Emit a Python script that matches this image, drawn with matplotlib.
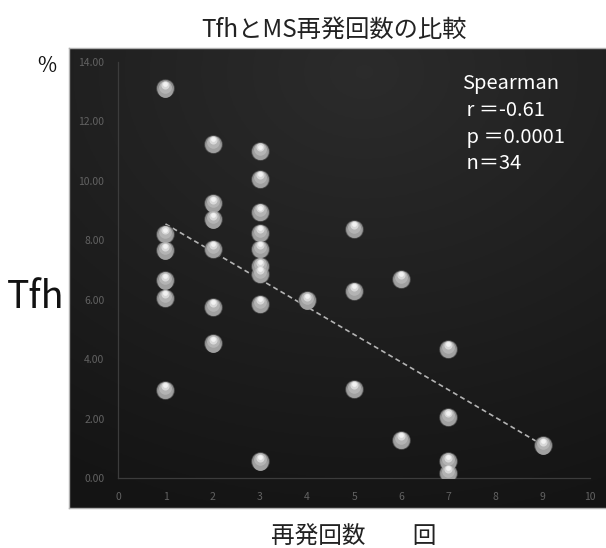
import numpy as np
import matplotlib
matplotlib.use('Agg')
import matplotlib.pyplot as plt
import matplotlib.transforms as mtransforms

plt.rcParams['font.family'] = ['Noto Sans CJK JP', 'DejaVu Sans']

# relapse count vs. Tfh (%)
relapses = [1, 1, 1, 1, 1, 1,
            2, 2, 2, 2, 2, 2,
            3, 3, 3, 3, 3, 3, 3, 3, 3,
            4,
            5, 5, 5,
            6, 6,
            7, 7, 7, 7,
            9]
tfh = [13.10, 8.21, 7.66, 6.65, 6.07, 2.97,
       11.25, 9.24, 8.71, 7.72, 5.76, 4.54,
       11.00, 10.07, 8.95, 8.25, 7.72, 7.13, 6.88, 5.87, 0.57,
       5.98,
       8.38, 6.31, 3.01,
       6.70, 1.30,
       4.35, 2.06, 0.57, 0.18,
       1.11]

title = 'TfhとMS再発回数の比較'
stats_lines = ['Spearman', ' r \uff1d-0.61', ' p \uff1d0.0001', ' n\uff1d34']
x_ticks = list(range(0, 11))
y_ticks = [0, 2, 4, 6, 8, 10, 12, 14]

fig = plt.figure(figsize=(6.06, 5.48), dpi=100)
fig.patch.set_facecolor('white')

# dark gradient panel behind the plot
bg = fig.add_axes([69 / 606, 40 / 548, 537 / 606, 460 / 548])
gy, gx = np.mgrid[0:1:200j, 0:1:200j]
d = np.sqrt(((gx - 0.55) / 1.1) ** 2 + ((gy - 0.05) / 1.0) ** 2)
shade = 0.17 - 0.09 * np.clip(d, 0, 1)
bg.imshow(np.dstack([shade] * 3), extent=[0, 1, 0, 1], aspect='auto',
          origin='upper')
bg.set_xticks([])
bg.set_yticks([])
for s in bg.spines.values():
    s.set_color('#b0b0b0')
    s.set_linewidth(1.0)
bg.spines['right'].set_visible(False)

ax = fig.add_axes([118.3 / 606, 69.7 / 548, 471.7 / 606, 416.6 / 548])
ax.set_facecolor('none')
ax.set_xlim(0, 10)
ax.set_ylim(0, 14)
ax.set_xticks(x_ticks)
ax.set_yticks(y_ticks)
ax.set_yticklabels(['%.2f' % v for v in y_ticks])
ax.tick_params(length=0, labelsize=7.5, colors='#626262', pad=10)
for side in ('top', 'right'):
    ax.spines[side].set_visible(False)
for side in ('left', 'bottom'):
    ax.spines[side].set_color('#3c3c3c')
    ax.spines[side].set_linewidth(0.9)

# linear trend line
coef = np.polyfit(relapses, tfh, 1)
xs = np.array([min(relapses), max(relapses)])
ax.plot(xs, np.polyval(coef, xs), ls=(0, (3, 2)), color='#b4b4b4',
        lw=1.2, zorder=2)

# shaded spheres: dark rim, gray body, bright top highlight
layers = [(0, 0.0, 180, '#4a4a4a'),
          (0, 0.0, 152, '#8c8c8c'),
          (0, -1.0, 114, '#a0a0a0'),
          (0, 1.4, 82, '#b4b4b4'),
          (0, 2.6, 34, '#d8d8d8'),
          (0, 3.2, 12, '#f2f2f2')]
for dx, dy, size, col in layers:
    tr = mtransforms.offset_copy(ax.transData, fig=fig, x=dx, y=dy,
                                 units='points')
    ax.scatter(relapses, tfh, s=size, color=col, linewidths=0,
               transform=tr, zorder=3)

for i, line in enumerate(stats_lines):
    fig.text(462 / 606, 1 - (84 + i * 26.5) / 548, line, color='white',
             fontsize=14.5, ha='left', va='center')

fig.text(334 / 606, 1 - 30 / 548, title, ha='center', va='center',
         fontsize=17.5, color='#222222')
fig.text(47 / 606, 1 - 66 / 548, '%', ha='center', va='center',
         fontsize=15, color='#111111')
fig.text(36 / 606, 1 - 298 / 548, 'Tfh', ha='center', va='center',
         fontsize=27, color='#111111')
fig.text(354 / 606, 1 - 537 / 548, '再発回数\u3000\u3000回', ha='center',
         va='center', fontsize=17, color='#222222')

fig.savefig('out.png', dpi=100)
